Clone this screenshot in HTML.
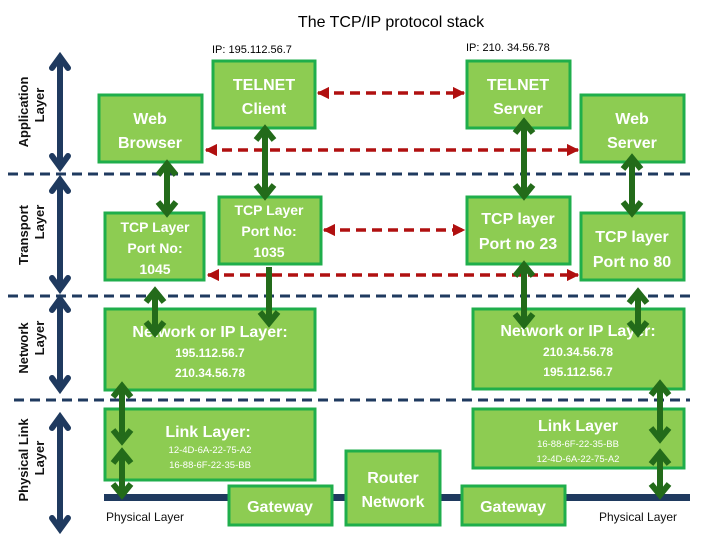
<!DOCTYPE html>
<html><head><meta charset="utf-8"><style>
html,body{margin:0;padding:0;background:#fff;}
svg{display:block;font-family:"Liberation Sans",sans-serif;}
</style></head><body>
<svg width="720" height="540" viewBox="0 0 720 540" xmlns="http://www.w3.org/2000/svg">
<defs>
<marker id="rs" viewBox="0 0 10 10" refX="9" refY="5" markerWidth="3.5" markerHeight="3.5" orient="auto-start-reverse"><path d="M0,0 L10,5 L0,10 z" fill="#b01010"/></marker>
</defs>
<text x="391" y="27" text-anchor="middle" font-size="16">The TCP/IP protocol stack</text>
<text x="212" y="53" font-size="11">IP:  195.112.56.7</text>
<text x="466" y="51" font-size="11">IP:  210. 34.56.78</text>

<g stroke="#1f3a5f" stroke-width="3" stroke-dasharray="10,6">
<line x1="8" y1="174" x2="690" y2="174"/>
<line x1="8" y1="296" x2="690" y2="296"/>
<line x1="14" y1="400" x2="690" y2="400"/>
</g>

<rect x="104" y="494" width="586" height="7" fill="#1f3a5f"/>

<g stroke="#1f3a5f" stroke-width="6" fill="none" stroke-linecap="round">
<line x1="60" y1="60" x2="60" y2="164"/><polyline points="52,68 60,57 68,68"/><polyline points="52,156 60,167 68,156"/>
<line x1="60" y1="183" x2="60" y2="286"/><polyline points="52,191 60,180 68,191"/><polyline points="52,278 60,289 68,278"/>
<line x1="60" y1="302" x2="60" y2="386"/><polyline points="52,310 60,299 68,310"/><polyline points="52,378 60,389 68,378"/>
<line x1="60" y1="420" x2="60" y2="526"/><polyline points="52,428 60,417 68,428"/><polyline points="52,518 60,529 68,518"/>
</g>
<g font-size="13" font-weight="bold" fill="#111">
<text transform="translate(28,112) rotate(-90)" text-anchor="middle">Application</text>
<text transform="translate(44,105) rotate(-90)" text-anchor="middle">Layer</text>
<text transform="translate(28,235) rotate(-90)" text-anchor="middle">Transport</text>
<text transform="translate(44,222) rotate(-90)" text-anchor="middle">Layer</text>
<text transform="translate(28,348) rotate(-90)" text-anchor="middle">Network</text>
<text transform="translate(44,338) rotate(-90)" text-anchor="middle">Layer</text>
<text transform="translate(28,460) rotate(-90)" text-anchor="middle">Physical Link</text>
<text transform="translate(44,458) rotate(-90)" text-anchor="middle">Layer</text>
</g>

<g fill="#8dcc52" stroke="#1fae4b" stroke-width="3">
<rect x="99" y="95" width="103" height="67"/>
<rect x="213" y="61" width="102" height="67"/>
<rect x="105" y="213" width="99" height="67"/>
<rect x="219" y="197" width="102" height="67"/>
<rect x="467" y="61" width="103" height="67"/>
<rect x="581" y="95" width="103" height="67"/>
<rect x="467" y="197" width="103" height="67"/>
<rect x="581" y="213" width="103" height="67"/>
<rect x="105" y="309" width="210" height="81"/>
<rect x="473" y="309" width="211" height="80"/>
<rect x="105" y="409" width="210" height="71"/>
<rect x="473" y="409" width="211" height="59"/>
<rect x="229" y="486" width="103" height="39"/>
<rect x="346" y="451" width="94" height="74"/>
<rect x="462" y="486" width="103" height="39"/>
</g>

<g fill="#fff" text-anchor="middle" font-size="16" font-weight="bold">
<text x="150" y="124">Web</text><text x="150" y="148">Browser</text>
<text x="264" y="90">TELNET</text><text x="264" y="114">Client</text>
<text x="518" y="90">TELNET</text><text x="518" y="114">Server</text>
<text x="632" y="124">Web</text><text x="632" y="148">Server</text>
<text x="518" y="224">TCP layer</text><text x="518" y="249">Port no 23</text>
<text x="632" y="242">TCP layer</text><text x="632" y="267">Port no 80</text>
<text x="280" y="512">Gateway</text>
<text x="513" y="512">Gateway</text>
<text x="393" y="483">Router</text><text x="393" y="507">Network</text>
<text x="210" y="337">Network or IP Layer:</text>
<text x="578" y="336">Network or IP Layer:</text>
<text x="208" y="437">Link Layer:</text>
<text x="578" y="431">Link Layer</text>
</g>
<g fill="#fff" text-anchor="middle" font-size="14" font-weight="bold">
<text x="155" y="232">TCP Layer</text><text x="155" y="253">Port No:</text><text x="155" y="274">1045</text>
<text x="269" y="215">TCP Layer</text><text x="269" y="236">Port No:</text><text x="269" y="257">1035</text>
</g>
<g fill="#fff" text-anchor="middle" font-size="12" font-weight="bold">
<text x="210" y="357">195.112.56.7</text><text x="210" y="377">210.34.56.78</text>
<text x="578" y="356">210.34.56.78</text><text x="578" y="376">195.112.56.7</text>
</g>
<g fill="#fff" text-anchor="middle" font-size="9.5">
<text x="210" y="453">12-4D-6A-22-75-A2</text><text x="210" y="468">16-88-6F-22-35-BB</text>
<text x="578" y="447">16-88-6F-22-35-BB</text><text x="578" y="462">12-4D-6A-22-75-A2</text>
</g>
<text x="106" y="521" font-size="12" fill="#111">Physical Layer</text>
<text x="599" y="521" font-size="12" fill="#111">Physical Layer</text>

<g stroke="#b01010" stroke-width="3.5" stroke-dasharray="10,6" marker-start="url(#rs)" marker-end="url(#rs)">
<line x1="318" y1="93" x2="464" y2="93"/>
<line x1="206" y1="150" x2="578" y2="150"/>
<line x1="324" y1="230" x2="464" y2="230"/>
<line x1="208" y1="275" x2="578" y2="275"/>
</g>

<g stroke="#236b1a" stroke-width="6" fill="none">
<line x1="167" y1="166" x2="167" y2="210"/><polyline points="158,175 167,164 176,175"/><polyline points="158,202 167,213 176,202"/>
<line x1="265" y1="131" x2="265" y2="193"/><polyline points="256,140 265,129 274,140"/><polyline points="256,185 265,196 274,185"/>
<line x1="155" y1="293" x2="155" y2="330"/><polyline points="146,302 155,291 164,302"/><polyline points="146,322 155,333 164,322"/>
<line x1="269" y1="267" x2="269" y2="320"/><polyline points="260,312 269,323 278,312"/>
<line x1="122" y1="388" x2="122" y2="438"/><polyline points="113,397 122,386 131,397"/><polyline points="113,430 122,441 131,430"/>
<line x1="122" y1="454" x2="122" y2="492"/><polyline points="113,463 122,452 131,463"/><polyline points="113,484 122,495 131,484"/>
<line x1="524" y1="124" x2="524" y2="193"/><polyline points="515,133 524,122 533,133"/><polyline points="515,185 524,196 533,185"/>
<line x1="632" y1="160" x2="632" y2="210"/><polyline points="623,169 632,158 641,169"/><polyline points="623,202 632,213 641,202"/>
<line x1="524" y1="267" x2="524" y2="322"/><polyline points="515,276 524,265 533,276"/><polyline points="515,314 524,325 533,314"/>
<line x1="638" y1="294" x2="638" y2="330"/><polyline points="629,303 638,292 647,303"/><polyline points="629,322 638,333 647,322"/>
<line x1="660" y1="386" x2="660" y2="436"/><polyline points="651,395 660,384 669,395"/><polyline points="651,428 660,439 669,428"/>
<line x1="660" y1="455" x2="660" y2="492"/><polyline points="651,464 660,453 669,464"/><polyline points="651,484 660,495 669,484"/>
</g>
</svg>
</body></html>
